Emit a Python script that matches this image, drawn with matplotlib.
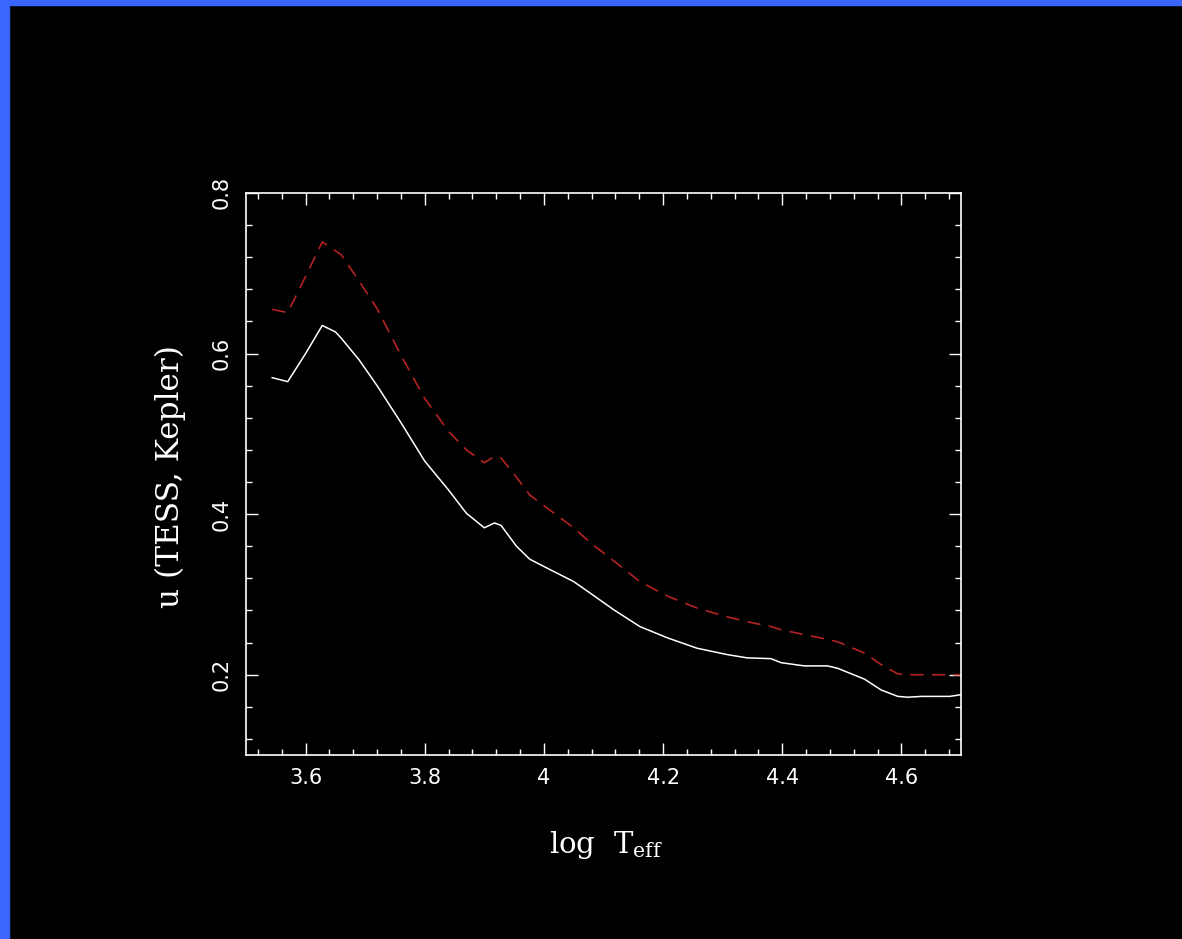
import numpy as np
import matplotlib
matplotlib.use("Agg")
import matplotlib.pyplot as plt
from matplotlib.patches import Rectangle
from matplotlib.ticker import MultipleLocator

### data
log_teff = [3.544, 3.57, 3.60, 3.628, 3.65, 3.66, 3.69, 3.72, 3.76, 3.80,
            3.84, 3.87, 3.90, 3.917, 3.928, 3.954, 3.976, 4.01, 4.05, 4.077,
            4.117, 4.161, 4.207, 4.257, 4.308, 4.341, 4.381, 4.398, 4.437, 4.476,
            4.493, 4.538, 4.566, 4.594, 4.611, 4.634, 4.681, 4.699]
u_tess = [0.570, 0.565, 0.600, 0.635, 0.627, 0.619, 0.592, 0.560, 0.514, 0.466,
          0.430, 0.401, 0.383, 0.389, 0.386, 0.360, 0.344, 0.331, 0.316, 0.302,
          0.281, 0.260, 0.246, 0.233, 0.225, 0.221, 0.220, 0.215, 0.211, 0.211,
          0.208, 0.1945, 0.181, 0.173, 0.172, 0.173, 0.173, 0.175]
u_kepler = [0.655, 0.651, 0.696, 0.739, 0.728, 0.723, 0.690, 0.656, 0.598, 0.544,
            0.503, 0.480, 0.464, 0.472, 0.470, 0.446, 0.424, 0.405, 0.383, 0.365,
            0.342, 0.316, 0.298, 0.283, 0.272, 0.266, 0.260, 0.256, 0.250, 0.244,
            0.241, 0.227, 0.2125, 0.201, 0.200, 0.200, 0.200, 0.200]

plt.rcParams['font.family'] = ['DejaVu Serif']
plt.rcParams['mathtext.fontset'] = 'dejavuserif'

W, H = 1182, 939
fig = plt.figure(figsize=(W/100, H/100), dpi=100, facecolor='black')

# blue frame of the slide
blue = '#3a66ff'
fig.patches.append(Rectangle((0, 0), 9/W, 1, transform=fig.transFigure, color=blue, zorder=0))
fig.patches.append(Rectangle((0, 1 - 5/H), 1, 5/H, transform=fig.transFigure, color=blue, zorder=0))

ax = fig.add_axes([246/W, 1 - 755/H, (961 - 246)/W, (755 - 193)/H])
ax.set_facecolor('black')

ax.plot(log_teff, u_kepler, color='#b52222', lw=1.2, dashes=(8, 5))
ax.plot(log_teff, u_tess, color='white', lw=1.1)

ax.set_xlim(3.5, 4.7)
ax.set_ylim(0.1, 0.8)
ax.xaxis.set_major_locator(MultipleLocator(0.2))
ax.xaxis.set_minor_locator(MultipleLocator(0.04))
ax.yaxis.set_major_locator(MultipleLocator(0.2))
ax.yaxis.set_minor_locator(MultipleLocator(0.04))
ax.set_xticks([3.6, 3.8, 4.0, 4.2, 4.4, 4.6])
ax.set_xticklabels(['3.6', '3.8', '4', '4.2', '4.4', '4.6'], family='DejaVu Sans')
ax.set_yticks([0.2, 0.4, 0.6, 0.8])
ax.set_yticklabels(['0.2', '0.4', '0.6', '0.8'], rotation=90, va='center', family='DejaVu Sans')

for s in ax.spines.values():
  s.set_color('white')
  s.set_linewidth(1.2)
ax.tick_params(which='both', direction='in', top=True, right=True, colors='white', width=1.0)
ax.tick_params(which='major', length=8.5, labelsize=15)
ax.tick_params(which='minor', length=4.5)
ax.tick_params(axis='x', pad=9.5)
ax.tick_params(axis='y', pad=10)

fig.text(606/W, 1 - 845/H, r'log  T$_{\rm eff}$', color='white', fontsize=21, ha='center', va='center')
fig.text(170/W, 1 - 477/H, 'u (TESS, Kepler)', color='white', fontsize=22.5, ha='center', va='center', rotation=90)

plt.savefig('out.png', dpi=100, facecolor='black')
